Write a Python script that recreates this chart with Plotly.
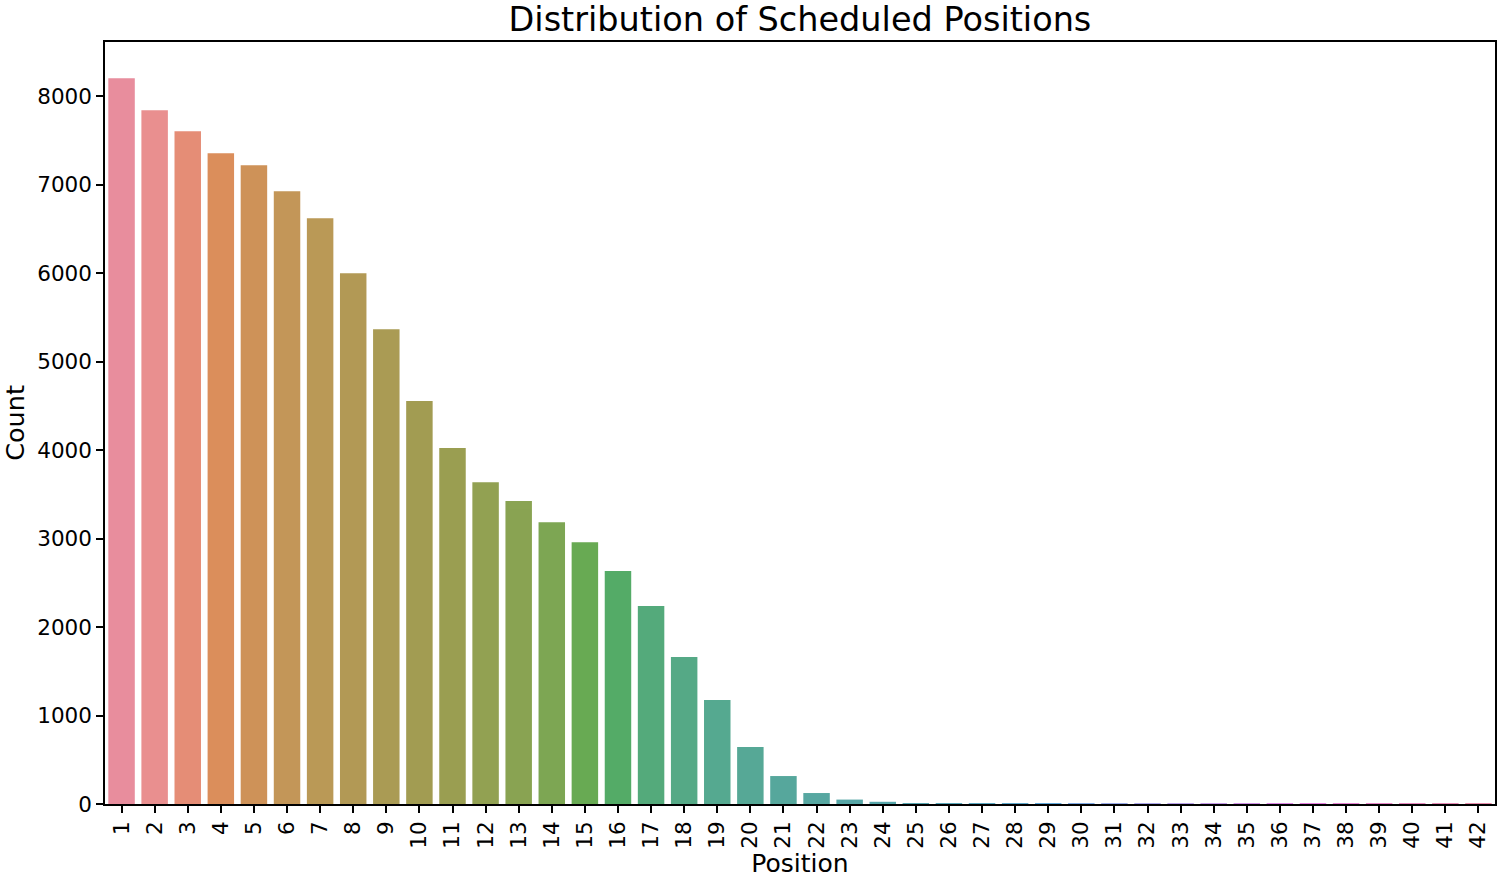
import math
import colorsys
import plotly.graph_objects as go

positions = [str(i) for i in range(1, 43)]
counts = [8203, 7842, 7605, 7356, 7220, 6927, 6621, 6000, 5367, 4554,
          4023, 3638, 3424, 3186, 2960, 2633, 2237, 1661, 1175, 644,
          316, 124, 50, 25, 8, 5, 4, 3, 3, 2,
          2, 2, 1, 1, 1, 1, 1, 1, 1, 1,
          1, 1]
y_ticks = [0, 1000, 2000, 3000, 4000, 5000, 6000, 7000, 8000]

# --- HUSL palette (as seaborn's husl_palette) ---
M = [[3.2406, -1.5372, -0.4986], [-0.9689, 1.8758, 0.0415], [0.0557, -0.2040, 1.0570]]
REF_Y, REF_U, REF_V = 1.0, 0.19784, 0.46834
KAPPA, EPS = 903.3, 0.008856


def max_chroma(L, H):
    hrad = math.radians(H)
    sinH, cosH = math.sin(hrad), math.cos(hrad)
    sub1 = (L + 16) ** 3 / 1560896.0
    sub2 = sub1 if sub1 > EPS else L / KAPPA
    result = float("inf")
    for m1, m2, m3 in M:
        top = (0.99915 * m1 + 1.05122 * m2 + 1.14460 * m3) * sub2
        rb = 0.86330 * m3 - 0.17266 * m2
        lb = 0.12949 * m3 - 0.38848 * m1
        bottom = (rb * sinH + lb * cosH) * sub2
        for t in (0.0, 1.0):
            C = L * (top - 1.05122 * t) / (bottom + 0.17266 * sinH * t)
            if 0 < C < result:
                result = C
    return result


def f_inv(t):
    return REF_Y * ((t + 16) / 116.0) ** 3 if t > 8 else REF_Y * t / KAPPA


def from_linear(c):
    return 12.92 * c if c <= 0.0031308 else 1.055 * c ** (1 / 2.4) - 0.055


def husl_to_rgb(h, s, l):
    C = max_chroma(l, h) / 100.0 * s
    U = C * math.cos(math.radians(h))
    V = C * math.sin(math.radians(h))
    varY = f_inv(l)
    varU = U / (13 * l) + REF_U
    varV = V / (13 * l) + REF_V
    Y = varY * REF_Y
    X = -(9 * Y * varU) / ((varU - 4) * varV - varU * varV)
    Z = (9 * Y - 15 * varV * Y - varV * X) / (3 * varV)
    return [min(max(from_linear(r[0] * X + r[1] * Y + r[2] * Z), 0), 1) for r in M]


def palette(n, h=0.01, s=0.9, l=0.65, sat=0.75):
    out = []
    for i in range(n):
        hue = ((i / n + h) % 1) * 359
        r, g, b = husl_to_rgb(hue, s * 99, l * 99)
        hh, ll, ss = colorsys.rgb_to_hls(r, g, b)
        r, g, b = colorsys.hls_to_rgb(hh, ll, ss * sat)
        out.append("rgb(%d,%d,%d)" % (round(r * 255), round(g * 255), round(b * 255)))
    return out


colors = palette(len(positions))

fig = go.Figure(go.Bar(
    x=positions, y=counts, marker=dict(color=colors, line=dict(width=0)),
    opacity=0.9, width=0.8,
))

font = "DejaVu Sans"
fig.update_layout(
    width=1500, height=878,
    margin=dict(l=105, r=5, t=42, b=74),
    paper_bgcolor="white", plot_bgcolor="white",
    font=dict(family=font, color="black", size=21),
    title=dict(text="Distribution of Scheduled Positions", x=0.5333, xanchor="center",
               y=1 - 19 / 878, yanchor="middle", yref="container",
               font=dict(size=33.5, family=font, color="black")),
    showlegend=False,
    bargap=0.2,
)
fig.update_xaxes(
    type="category", range=[-0.5, 41.5], showline=True, linecolor="black", linewidth=1.5,
    mirror=True, ticks="outside", ticklen=7, tickwidth=1.5, tickcolor="black",
    tickangle=-90, tickfont=dict(size=21.5), showgrid=False, automargin=False,
    title=dict(text="Position", font=dict(size=25), standoff=0),
)
fig.update_yaxes(
    range=[0, 8613], tickvals=y_ticks, showline=True, linecolor="black", linewidth=1.5,
    mirror=True, ticks="outside", ticklen=7, tickwidth=1.5, tickcolor="black",
    tickfont=dict(size=21.5), showgrid=False, zeroline=False, automargin=False,
    title=dict(text="Count", font=dict(size=25.5), standoff=8),
)

fig.write_html("out.html", config={"displayModeBar": False},
               post_script="document.body.style.margin='0';document.body.style.overflow='hidden';")
